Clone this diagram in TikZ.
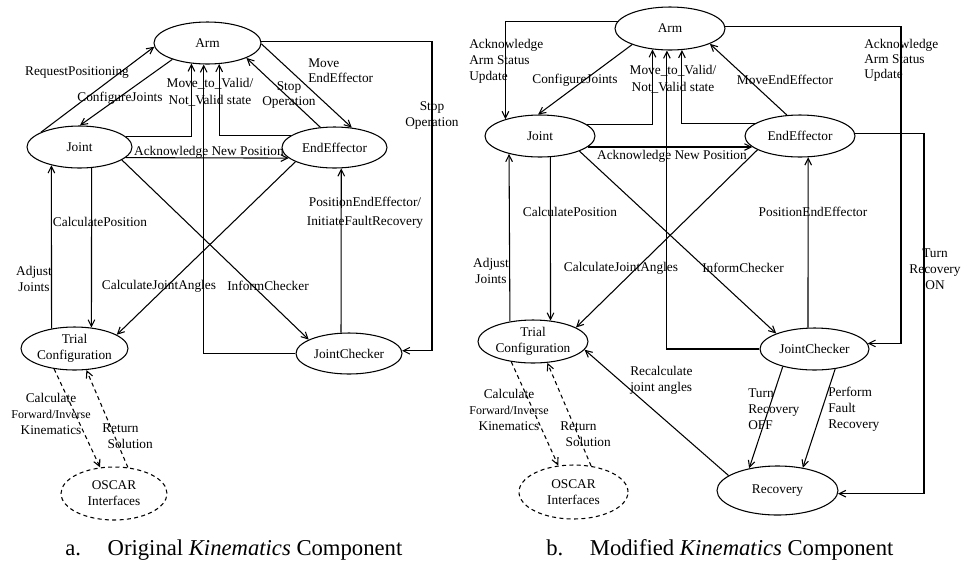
\documentclass[tikz,border=0pt]{standalone}
\usepackage{fontspec}
\setmainfont{Liberation Serif}
\usetikzlibrary{arrows.meta,shapes.geometric}

\begin{document}
\begin{tikzpicture}[x=0.75pt,y=-0.75pt,
  every node/.style={font=\fontsize{10}{12}\selectfont},
  state/.style n args={2}{ellipse,draw,line width=0.8pt,inner sep=0pt,
    minimum width=#1*1.5pt,minimum height=#2*1.5pt,align=center},
  ext/.style={dash pattern=on 3pt off 2.5pt},
  conn/.style={line width=0.8pt,-{Straight Barb[length=5pt,width=5pt]}},
  dconn/.style={conn,ext},
  lbl/.style={inner sep=0pt,align=center},
  lbll/.style={inner sep=0pt,align=left,anchor=west},
  small/.style={font=\fontsize{8.8}{10.5}\selectfont},
  caption/.style={inner sep=0pt,anchor=base west,font=\fontsize{17}{20}\selectfont}
]
\useasboundingbox (0,0) rectangle (965,562);

% ---------------- a. original component ----------------
\node[state={53.5}{21}]   (ArmA)   at (207.5,43)   {Arm};
\node[state={52.5}{21}]   (JointA) at (79.5,147)   {Joint};
\node[state={52.5}{20.5}] (EEA)    at (334.5,147.5){EndEffector};
\node[state={53.5}{21.5}] (TrialA) at (74.5,348.5) {Trial\\Configuration};
\node[state={53}{20.5}]   (JCA)    at (349,353.5)  {JointChecker};
\node[state={53}{26.5},ext] (OscA) at (114,493.5)  {OSCAR\\Interfaces};

\coordinate (xA) at (432,0);

\draw[conn] (JointA.159) -- (ArmA.184.4);
\draw[conn] (ArmA.205.6) -- (JointA.89);
\draw[conn] (JointA.13.9) -| (ArmA.232.4);
\draw[conn] (JCA.180) -| (ArmA.260.5);
\draw[conn] (EEA.165.5) -| (ArmA.299.3);
\draw[conn] (EEA.125.3) -- (ArmA.339.1);
\draw[conn] (ArmA.-1) -- (EEA.49.5);
\draw[conn] (ArmA.2.5) -- (ArmA.2.5 -| xA) |- (JCA.3.8);
\draw[conn] (JointA.-13.8) -- (EEA.193.1);
\draw[conn] (JointA.-60.7) -- (TrialA.51.1);
\draw[conn] (TrialA.139.1) -- (JointA.213.1);
\draw[conn] (JointA.-17.5) -- (JCA.161.7);
\draw[conn] (EEA.200.2) -- (TrialA.18.4);
\draw[conn] (JCA.111.6) -- (EEA.-72.3);
\draw[dconn] (TrialA.225) -- (OscA.118.8);
\draw[dconn] (OscA.62.2) -- (TrialA.-61.9);

\node[lbl] (lA1) at (77,73) {RequestPositioning};
\node[lbl] (lA2) at (120,98) {ConfigureJoints};
\node[lbl,font=\fontsize{10}{13}\selectfont] (lA3) at (210,92) {Move\_to\_Valid/\\Not\_Valid state};
\node[lbl,font=\fontsize{10}{11}\selectfont] (lA4) at (289,95) {Stop\\Operation};
\node[lbll,font=\fontsize{10}{11.3}\selectfont] (lA5) at (308,70.5) {Move\\EndEffector};
\node[lbl,font=\fontsize{10}{11.3}\selectfont] (lA6) at (432,115.5) {Stop\\Operation};
\node[lbl] (lA7) at (209,152) {Acknowledge New Position};
\node[lbl] (lA8) at (100,222) {CalculatePosition};
\node[lbl,font=\fontsize{10}{14.5}\selectfont] (lA9) at (365,212.5) {PositionEndEffector/\\InitiateFaultRecovery};
\node[lbl] (lA10) at (34,278.5) {Adjust\\Joints};
\node[lbl] (lA11) at (159,286) {CalculateJointAngles};
\node[lbl] (lA12) at (268,286) {InformChecker};
\node[lbl] (lA13) at (51,413.5) {Calculate\\{\small Forward/Inverse}\\Kinematics};
\node[lbll] (lA14) at (102,436.5) {Return\\\hspace*{4pt}Solution};

\node[caption] (capA) at (65,555) {a.\hspace{20pt}Original \textit{Kinematics} Component};

% ---------------- b. modified component ----------------
\node[state={55}{21.5}]   (ArmB)   at (670,28.5)   {Arm};
\node[state={55}{21}]     (JointB) at (540,136)    {Joint};
\node[state={55}{21}]     (EEB)    at (800,136)    {EndEffector};
\node[state={55}{21.5}]   (TrialB) at (533,341.5)  {Trial\\Configuration};
\node[state={54.5}{21}]   (JCB)    at (814.5,349)  {JointChecker};
\node[state={54.5}{27},ext] (OscB) at (573.5,492)  {OSCAR\\Interfaces};
\node[state={60.5}{24.5}] (RecB)   at (777.5,490.5){Recovery};

\coordinate (xB1) at (901,0);
\coordinate (xB2) at (924,0);

\draw[conn] (ArmB.172.9) -| (JointB.154.1);
\draw[conn] (ArmB.203.5) -- (JointB.95.4);
\draw[conn] (JointB.14.3) -| (ArmB.230.3);
\draw[conn] (JCB.180) -| (ArmB.262);
\draw[conn] (EEB.164.5) -| (ArmB.299.8);
\draw[conn] (EEB.122.3) -- (ArmB.339.2);
\draw[conn] (ArmB.2.6) -- (ArmB.2.6 -| xB1) |- (JCB.6.2);
\draw[conn] (EEB.3) -- (EEB.3 -| xB2) |- (RecB.-3.2);
\draw[conn] (JointB.-13.2) -- (EEB.193.2);
\draw[conn] (JointB.-64.2) -- (TrialB.50.3);
\draw[conn] (TrialB.139.7) -- (JointB.210.4);
\draw[conn] (JointB.-21.6) -- (JCB.158.2);
\draw[conn] (EEB.198.4) -- (TrialB.18.2);
\draw[conn] (JCB.107.3) -- (EEB.-69);
\draw[conn] (RecB.163.8) -- (TrialB.-9.6);
\draw[conn] (JCB.209.7) -- (RecB.142.7);
\draw[conn] (JCB.-44.2) -- (RecB.42.6);
\draw[dconn] (TrialB.223.1) -- (OscB.120.1);
\draw[dconn] (OscB.56.6) -- (TrialB.-56.9);

\node[lbll] (lB1) at (469,61) {Acknowledge\\Arm Status\\Update};
\node[lbl] (lB2) at (575,80) {ConfigureJoints};
\node[lbl,font=\fontsize{10}{13}\selectfont] (lB3) at (673,79.5) {Move\_to\_Valid/\\Not\_Valid state};
\node[lbl] (lB4) at (785,80) {MoveEndEffector};
\node[lbll,font=\fontsize{10}{11.3}\selectfont] (lB5) at (864,60) {Acknowledge\\Arm Status\\Update};
\node[lbl] (lB6) at (672,156) {Acknowledge New Position};
\node[lbl] (lB7) at (570,212) {CalculatePosition};
\node[lbl] (lB8) at (813,212) {PositionEndEffector};
\node[lbl] (lB9) at (491,271) {Adjust\\Joints};
\node[lbl] (lB10) at (621,268) {CalculateJointAngles};
\node[lbl] (lB11) at (743,268) {InformChecker};
\node[lbl] (lB12) at (935,269.5) {Turn\\Recovery\\ON};
\node[lbll] (lB13) at (630,380) {Recalculate\\joint angles};
\node[lbll] (lB14) at (748,409) {Turn\\Recovery\\OFF};
\node[lbll] (lB15) at (828,409) {Perform\\Fault\\Recovery};
\node[lbl] (lB16) at (509,410) {Calculate\\{\small Forward/Inverse}\\Kinematics};
\node[lbll] (lB17) at (560,434) {Return\\\hspace*{4pt}Solution};

\node[caption] (capB) at (546,555) {b.\hspace{20pt}Modified \textit{Kinematics} Component};
\end{tikzpicture}
\end{document}
